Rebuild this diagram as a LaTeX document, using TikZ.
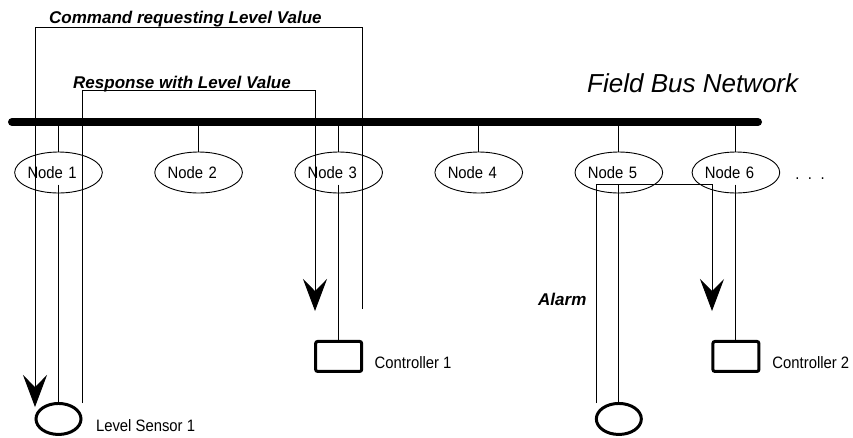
\documentclass[tikz,border=0pt]{standalone}
\usepackage{fontspec}
\setmainfont{Liberation Sans}
\newfontfamily\labelfont[FakeStretch=0.9]{Liberation Sans}
\usetikzlibrary{positioning}
\usetikzlibrary{arrows.meta}
\usetikzlibrary{shapes}
\usetikzlibrary{calc}

\newcommand\tagsize{\labelfont\fontsize{16.5}{19}\selectfont}
\newcommand\titlesize{\fontsize{17}{20}\selectfont\bfseries\itshape}

\begin{document}
\begin{tikzpicture}[x=1pt,y=-1pt]
\tikzset{station/.style={ellipse,draw,line width=0.9pt,inner sep=0pt,text width=62pt,align=left,minimum height=41pt,font=\tagsize}}
\tikzset{sensor/.style={ellipse,draw,line width=3pt,inner sep=0pt,minimum width=45pt,minimum height=31pt}}
\tikzset{controller/.style={rectangle,draw,line width=3pt,inner sep=0pt,minimum width=46pt,minimum height=30pt,rounded corners=2pt}}
\tikzset{tag/.style={font=\tagsize}}
\tikzset{title/.style={inner sep=0pt,anchor=base west,font=\titlesize}}
\tikzset{bus/.style={line width=8pt,line cap=round}}
\tikzset{wire/.style={line width=0.9pt}}
\tikzset{message/.style={line width=0.9pt,-{Stealth[length=32pt,width=24pt,inset=12pt]}}}
\useasboundingbox (0,0) rectangle (853,437);
% field bus and its stations
\coordinate (bus west) at (12,122);
\coordinate (bus east) at (758,122);
\draw[bus] (bus west) -- (bus east);
\node[inner sep=0pt,anchor=base west,font=\fontsize{26}{30}\selectfont\itshape] (bus label) at (587,92.5) {Field Bus Network};
\node[station] (node1) at (58.5,172.5) {Node 1};
\node[station, right=51.5pt of node1] (node2) {Node 2};
\node[station, right=51.5pt of node2] (node3) {Node 3};
\node[station, right=51.5pt of node3] (node4) {Node 4};
\node[station, right=51.5pt of node4] (node5) {Node 5};
\node[station, right=28.5pt of node5] (node6) {Node 6};
\node[tag, anchor=base] (more) at (810,179.5) {.\hspace{8.5pt}.\hspace{8.5pt}.};
\draw[wire] (node1) -- (node1 |- bus west);
\draw[wire] (node2) -- (node2 |- bus west);
\draw[wire] (node3) -- (node3 |- bus west);
\draw[wire] (node4) -- (node4 |- bus west);
\draw[wire] (node5) -- (node5 |- bus west);
\draw[wire] (node6) -- (node6 |- bus west);
% field devices
\node[sensor, below=208.5pt of node1] (sensor1) {};
\node[controller, below=146.5pt of node3] (ctrl1) {};
\node[sensor, below=208.5pt of node5] (sensor2) {};
\node[controller, below=146.5pt of node6] (ctrl2) {};
\node[tag, right=10pt of sensor1, yshift=-7pt] (sensor1 label) {Level Sensor 1};
\node[tag, right=8pt of ctrl1, yshift=-6pt] (ctrl1 label) {Controller 1};
\node[tag, right=8.5pt of ctrl2, yshift=-6pt] (ctrl2 label) {Controller 2};
\draw[wire] ($(node1)+(0,12)$) -- (sensor1);
\draw[wire] ($(node3)+(0,12)$) -- (ctrl1);
\draw[wire] ($(node5)+(0,12)$) -- (sensor2);
\draw[wire] ($(node6)+(0,12)$) -- (ctrl2);
% messages
\coordinate (cmd from) at (362,309);
\coordinate (cmd to) at (35,407);
\coordinate (resp from) at (82,403);
\coordinate (resp to) at (315,311);
\coordinate (alarm from) at (596,403);
\coordinate (alarm to) at (712,311);
\draw[message] (cmd from) -- ++(0,-282) -| (cmd to);
\draw[message] (resp from) -- ++(0,-313) -| (resp to);
\draw[message] (alarm from) -- ++(0,-219) -| (alarm to);
\node[title] (cmd label) at (49,23) {Command requesting Level Value};
\node[title] (resp label) at (73,88) {Response with Level Value};
\node[title] (alarm label) at (538,305) {Alarm};
\end{tikzpicture}
\end{document}
